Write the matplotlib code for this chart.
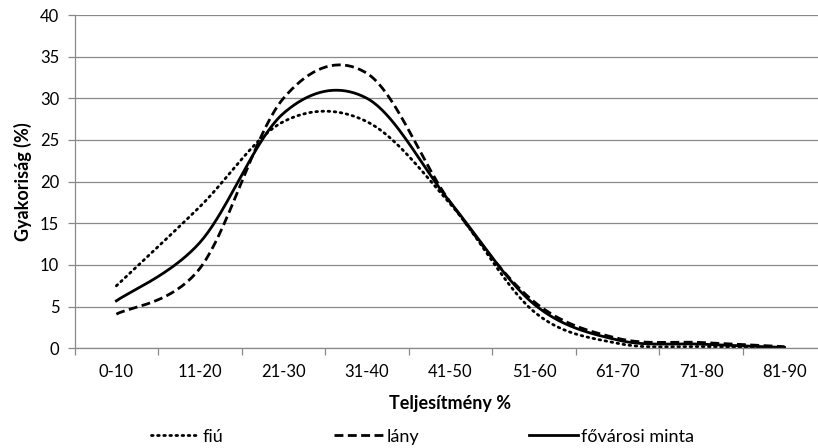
import numpy as np
import matplotlib
matplotlib.use("Agg")
import matplotlib.pyplot as plt

plt.rcParams['font.family'] = ['Lato', 'DejaVu Sans']

# Data
categories = ["0-10", "11-20", "21-30", "31-40", "41-50", "51-60", "61-70", "71-80", "81-90"]
fiu = [7.5, 17.0, 27.2, 27.2, 17.3, 4.4, 0.6, 0.2, 0.1]
lany = [4.1, 9.6, 30.0, 33.0, 17.5, 5.6, 1.2, 0.7, 0.2]
fovarosi = [5.7, 12.7, 28.2, 30.0, 17.5, 5.3, 1.0, 0.5, 0.1]
y_ticks = [0, 5, 10, 15, 20, 25, 30, 35, 40]


def smooth(y, n=40):
    # Excel-style smoothed line (Bezier through the points, Catmull-Rom tangents)
    y = np.asarray(y, dtype=float)
    x = np.arange(len(y), dtype=float)
    xs, ys = [], []
    for i in range(len(y) - 1):
        p0 = max(i - 1, 0)
        p3 = min(i + 2, len(y) - 1)
        cx1 = x[i] + (x[i + 1] - x[p0]) / 6
        cy1 = y[i] + (y[i + 1] - y[p0]) / 6
        cx2 = x[i + 1] - (x[p3] - x[i]) / 6
        cy2 = y[i + 1] - (y[p3] - y[i]) / 6
        t = np.linspace(0, 1, n)
        bx = (1 - t) ** 3 * x[i] + 3 * (1 - t) ** 2 * t * cx1 + 3 * (1 - t) * t ** 2 * cx2 + t ** 3 * x[i + 1]
        by = (1 - t) ** 3 * y[i] + 3 * (1 - t) ** 2 * t * cy1 + 3 * (1 - t) * t ** 2 * cy2 + t ** 3 * y[i + 1]
        xs.extend(bx[:-1] if i < len(y) - 2 else bx)
        ys.extend(by[:-1] if i < len(y) - 2 else by)
    return np.array(xs), np.array(ys)


fig = plt.figure(figsize=(8.18, 4.48), dpi=100)
ax = fig.add_axes([0.0912, 0.2225, 0.919, 0.744])

grid_col = '#898989'

x1, y1 = smooth(fiu)
x2, y2 = smooth(lany)
x3, y3 = smooth(fovarosi)
ax.plot(x1, y1, color='black', lw=2.0, linestyle=(0, (0.6, 1.6)), dash_capstyle='round', label='fiú')
ax.plot(x2, y2, color='black', lw=2.0, linestyle=(0, (3.2, 1.6)), label='lány')
ax.plot(x3, y3, color='black', lw=2.0, label='fővárosi minta')

ax.set_xlim(-0.5, len(categories) - 0.5)
ax.set_ylim(0, 40)
ax.set_yticks(y_ticks)
ax.set_yticklabels([str(v) for v in y_ticks], fontsize=12)
ax.yaxis.grid(True, color=grid_col, lw=0.9)
ax.set_axisbelow(True)

# categories between tick marks
ax.set_xticks(np.arange(len(categories) + 1) - 0.5)
ax.set_xticklabels([])
ax.set_xticks(np.arange(len(categories)), minor=True)
ax.set_xticklabels(categories, minor=True, fontsize=12)
ax.tick_params(axis='x', which='major', length=5, color=grid_col, width=0.9)
ax.tick_params(axis='x', which='minor', length=0, pad=11)
ax.tick_params(axis='y', length=5, color=grid_col, width=0.9, pad=6)

for s in ['top', 'right']:
    ax.spines[s].set_visible(False)
for s in ['left', 'bottom']:
    ax.spines[s].set_color(grid_col)
    ax.spines[s].set_linewidth(0.9)

ax.set_xlabel('Teljesítmény %', fontsize=13, fontweight='bold', labelpad=11)
ax.set_ylabel('Gyakoriság (%)', fontsize=13, fontweight='bold', labelpad=6)

fig.legend(loc='center', bbox_to_anchor=(0.5165, 0.025), ncol=3, frameon=False,
           fontsize=13, handlelength=2.7, handletextpad=0.2, columnspacing=6.1)

fig.savefig('out.png', dpi=100)
